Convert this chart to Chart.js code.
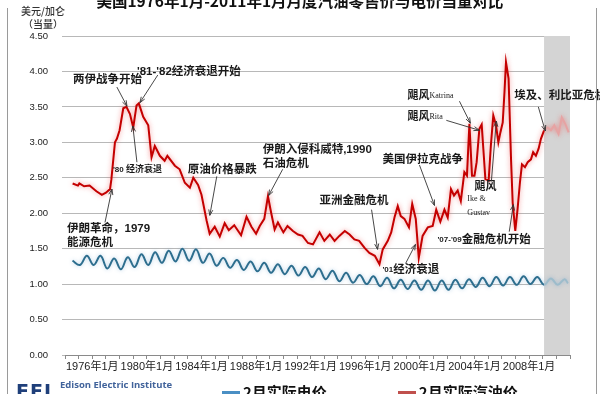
<!DOCTYPE html>
<html lang="zh-CN">
<head>
<meta charset="utf-8">
<script src="https://cdn.jsdelivr.net/npm/chart.js@4.4.1/dist/chart.umd.min.js"></script>
<style>
  html, body { margin: 0; padding: 0; width: 600px; height: 394px; overflow: hidden; background: #fff; }
  #wrap { position: relative; width: 600px; height: 394px; overflow: hidden; }
  #frame { position: absolute; left: 7px; top: 8px; width: 588px; height: 400px;
           border-left: 1px solid #9a9a9a; border-right: 1px solid #9a9a9a; }
  #title { position: absolute; left: 0; top: -11px; width: 600px; text-align: center; white-space: nowrap;
           font: bold 15.5px "Noto Sans CJK SC"; color: #111; }
  #unit { position: absolute; left: 19px; top: 4px; width: 48px; text-align: center;
          font: 500 10px/13px "Noto Sans CJK SC"; color: #333; }
  #logo { position: absolute; left: 16px; top: 380px; font: bold 19px "DejaVu Sans"; color: #1f3f7a; letter-spacing: 1px; }
  #eei { position: absolute; left: 60px; top: 378px; font: bold 9.5px "Open Sans"; color: #41639b; white-space: nowrap; }
  #legend { position: absolute; left: 222px; top: 383px; display: flex; gap: 71px;
            font: bold 15px/18px "Noto Sans CJK SC"; color: #111; white-space: nowrap; }
  #legend .item { display: flex; align-items: flex-start; }
  #legend .item i { display: block; width: 18px; height: 12px; margin: 8px 3px 0 0; }
  canvas { position: absolute; left: 0; top: 0; }
</style>
</head>
<body>
<div id="wrap">
  <canvas id="grafico" width="600" height="394"></canvas>
  <div id="frame"></div>
  <div id="title">美国1976年1月-2011年1月月度汽油零售价与电价当量对比</div>
  <div id="unit">美元/加仑<br>（当量）</div>
  <div id="logo">EEI</div>
  <div id="eei">Edison Electric Institute</div>
  <div id="legend"></div>
</div>
<script>
// DADOS - gasolina (vermelho), datas em anos decimais
const gasDates = [
  1976.56, 1976.95, 1977.05, 1977.4, 1977.8, 1978.3, 1978.7, 1979.0, 1979.3, 1979.4,
  1979.66, 1979.8, 1980.0, 1980.27, 1980.5, 1980.76, 1981.0, 1981.24, 1981.41, 1981.73,
  1982.1, 1982.34, 1982.58, 1982.95, 1983.3, 1983.5, 1984.05, 1984.4, 1984.78, 1985.15,
  1985.4, 1985.75, 1986.0, 1986.37, 1986.6, 1986.97, 1987.34, 1987.7, 1988.0, 1988.4,
  1988.9, 1989.3, 1989.66, 1990.0, 1990.27, 1990.6, 1990.87, 1991.1, 1991.36, 1991.6,
  1992.0, 1992.3, 1992.7, 1993.07, 1993.4, 1993.8, 1994.17, 1994.65, 1995.0, 1995.4,
  1995.75, 1996.1, 1996.5, 1996.85, 1997.2, 1997.55, 1997.95, 1998.3, 1998.7, 1999.04,
  1999.28, 1999.65, 1999.9, 2000.14, 2000.38, 2000.6, 2000.87, 2001.2, 2001.44, 2001.7,
  2001.92, 2002.2, 2002.58, 2002.94, 2003.2, 2003.5, 2003.8, 2004.04, 2004.28, 2004.5,
  2004.77, 2005.0, 2005.26, 2005.45, 2005.63, 2005.82, 2006.0, 2006.16, 2006.36, 2006.53,
  2006.65, 2006.8, 2007.04, 2007.2, 2007.38, 2007.58, 2007.75, 2007.9, 2008.07, 2008.2,
  2008.31, 2008.5, 2008.68, 2008.8, 2008.99, 2009.16, 2009.33, 2009.48, 2009.7, 2009.9,
  2010.14, 2010.3, 2010.5, 2010.7, 2010.87, 2011.1, 2011.35, 2011.6, 2011.85, 2012.16,
  2012.4, 2012.65, 2012.9
];
const gasPrices = [
  2.42, 2.39, 2.42, 2.38, 2.39, 2.31, 2.26, 2.29, 2.34, 2.48,
  3.00, 3.05, 3.17, 3.48, 3.50, 3.40, 3.21, 3.52, 3.55, 3.36,
  3.24, 2.79, 2.95, 2.81, 2.74, 2.81, 2.67, 2.62, 2.43, 2.36,
  2.50, 2.40, 2.26, 1.90, 1.71, 1.81, 1.67, 1.86, 1.76, 1.83,
  1.69, 1.95, 1.81, 1.71, 1.82, 1.92, 2.24, 2.01, 1.77, 1.87,
  1.73, 1.82, 1.75, 1.70, 1.68, 1.58, 1.56, 1.73, 1.61, 1.70,
  1.61, 1.68, 1.75, 1.70, 1.63, 1.61, 1.51, 1.44, 1.40, 1.28,
  1.49, 1.61, 1.73, 1.94, 2.10, 1.96, 1.92, 1.80, 2.13, 1.92,
  1.37, 1.68, 1.80, 1.82, 2.05, 1.88, 2.05, 1.94, 2.34, 2.25,
  2.32, 2.17, 2.58, 2.53, 3.26, 2.53, 2.53, 2.72, 3.19, 3.25,
  2.91, 2.48, 2.46, 2.95, 3.38, 3.24, 3.00, 3.14, 3.28, 3.71,
  4.13, 3.90, 2.76, 2.15, 1.75, 2.06, 2.43, 2.69, 2.65, 2.72,
  2.76, 2.86, 2.81, 2.91, 3.05, 3.17, 3.21, 3.17, 3.24, 3.12,
  3.35, 3.26, 3.14
];

// DADOS - eletricidade (azul)
const elecDates = [
  1976.55, 1977.1, 1977.6, 1978.1, 1978.6, 1979.1, 1979.6, 1980.1, 1980.6, 1981.1, 1981.6,
  1982.1, 1982.6, 1983.1, 1983.6, 1984.1, 1984.6, 1985.1, 1985.6, 1986.1, 1986.6,
  1987.1, 1987.6, 1988.1, 1988.6, 1989.1, 1989.6, 1990.1, 1990.6, 1991.1, 1991.6,
  1992.1, 1992.6, 1993.1, 1993.6, 1994.1, 1994.6, 1995.1, 1995.6, 1996.1, 1996.6,
  1997.1, 1997.6, 1998.1, 1998.6, 1999.1, 1999.6, 2000.1, 2000.6, 2001.1, 2001.6,
  2002.1, 2002.6, 2003.1, 2003.6, 2004.1, 2004.6, 2005.1, 2005.6, 2006.1, 2006.6,
  2007.1, 2007.6, 2008.1, 2008.6, 2009.1, 2009.6, 2010.1, 2010.6, 2011.1, 2011.6,
  2012.1, 2012.6, 2012.85
];
const elecPrices = [
  1.33, 1.27, 1.40, 1.27, 1.40, 1.22, 1.36, 1.21, 1.38, 1.24, 1.42,
  1.27, 1.45, 1.30, 1.47, 1.32, 1.50, 1.33, 1.49, 1.30, 1.43,
  1.26, 1.37, 1.23, 1.34, 1.20, 1.32, 1.18, 1.30, 1.16, 1.28,
  1.14, 1.26, 1.12, 1.24, 1.10, 1.22, 1.07, 1.19, 1.04, 1.16,
  1.02, 1.13, 1.00, 1.11, 0.97, 1.09, 0.94, 1.06, 0.93, 1.05,
  0.92, 1.05, 0.91, 1.05, 0.92, 1.06, 0.94, 1.07, 0.96, 1.09,
  0.97, 1.10, 0.98, 1.10, 0.99, 1.11, 1.00, 1.10, 0.99, 1.08,
  0.99, 1.07, 1.01
];

// previsao (faixa cinza)
const forecastStart = 2011.1;
const xMin = 1976;
const xMax = 2013;

// notas de texto: posicao em [ano, valor], seta [ano1, valor1, ano2, valor2]
const notes = [
  { at: [1976.59, 3.88], lines: [[["两伊战争开始", 11.5]]], arrow: [1979.8, 3.78, 1980.54, 3.51] },
  { at: [1981.27, 4.0], lines: [[["'81-'82经济衰退开始", 11.5]]], arrow: [1982.8, 3.95, 1981.49, 3.56] },
  { at: [1979.51, 2.61], lines: [[["'80 ", 8], ["经济衰退", 9]]], arrow: [1981.27, 2.72, 1980.97, 3.23] },
  { at: [1985.0, 2.61], lines: [[["原油价格暴跌", 11.5]]], arrow: [1987.12, 2.52, 1986.61, 1.97] },
  { at: [1976.15, 1.78], lines: [[["伊朗革命，1979", 11.5]], [["能源危机", 11.5]]], arrow: [1978.93, 1.87, 1979.44, 2.34] },
  { at: [1990.48, 2.9], lines: [[["伊朗入侵科威特,1990", 11.5]], [["石油危机", 11.5]]], arrow: [1991.95, 2.62, 1990.92, 2.25] },
  { at: [1994.65, 2.17], lines: [[["亚洲金融危机", 11.5]]], arrow: [1998.46, 2.05, 1998.9, 1.49] },
  { at: [1999.26, 1.2], lines: [[["'01", 8], ["经济衰退", 11.5]]], arrow: [2000.95, 1.29, 2001.68, 1.56] },
  { at: [1999.26, 2.76], lines: [[["美国伊拉克战争", 11.5]]], arrow: [2001.97, 2.68, 2003.07, 2.11] },
  { at: [2003.29, 1.63], lines: [[["'07-'09", 8], ["金融危机开始", 11.5]]], arrow: [2008.55, 1.74, 2008.85, 2.12] },
  { at: [2001.09, 3.65], lines: [[["飓风", 11], ["Katrina", 8, "serif"]]], arrow: [2004.9, 3.58, 2005.7, 3.27] },
  { at: [2001.09, 3.36], lines: [[["飓风", 11], ["Rita", 8, "serif"]]], arrow: [2003.94, 3.31, 2006.36, 3.17] },
  { at: [2006.0, 2.37], lines: [[["飓风", 11]]], arrow: [2007.24, 2.45, 2007.6, 3.3] },
  { at: [2005.48, 2.2], lines: [[["Ike &", 8, "serif"]], [["Gustav", 8, "serif"]]] },
  { at: [2008.92, 3.65], lines: [[["埃及、利比亚危机", 11.5]]], arrow: [2010.68, 3.5, 2011.19, 3.16] }
];

// FAIXA CINZA DA PREVISAO
const faixaPlugin = {
  id: "faixa",
  beforeDatasetsDraw(chart) {
    const { ctx, chartArea, scales } = chart;
    const left = scales.x.getPixelForValue(forecastStart);
    ctx.save();
    ctx.fillStyle = "#d4d4d4";
    ctx.fillRect(left, chartArea.top, chartArea.right - left, chartArea.bottom - chartArea.top);
    ctx.restore();
  }
};

// BRILHO NAS LINHAS
const brilhoPlugin = {
  id: "brilho",
  beforeDatasetDraw(chart, args) {
    const ctx = chart.ctx;
    ctx.save();
    ctx.shadowColor = args.index === 1 ? "rgba(240,90,90,0.65)" : "rgba(90,150,200,0.45)";
    ctx.shadowBlur = args.index === 1 ? 5 : 4;
  },
  afterDatasetDraw(chart) {
    chart.ctx.restore();
  }
};

// NOTAS E SETAS
const notasPlugin = {
  id: "notas",
  afterDatasetsDraw(chart) {
    const { ctx, scales } = chart;
    const sx = scales.x, sy = scales.y;
    ctx.save();
    ctx.fillStyle = "#1a1a1a";
    ctx.strokeStyle = "#333";
    ctx.lineWidth = 0.9;
    ctx.textBaseline = "middle";
    for (let i = 0; i < notes.length; i++) {
      const n = notes[i];
      const px = sx.getPixelForValue(n.at[0]);
      const py = sy.getPixelForValue(n.at[1]);
      for (let l = 0; l < n.lines.length; l++) {
        let cx = px;
        for (const seg of n.lines[l]) {
          ctx.font = seg[2] === "serif"
            ? seg[1] + 'px "Liberation Serif"'
            : "bold " + seg[1] + 'px "Liberation Sans", "Noto Sans CJK SC"';
          ctx.fillText(seg[0], cx, py + l * 14);
          cx += ctx.measureText(seg[0]).width;
        }
      }
      if (n.arrow) {
        const a = n.arrow;
        const x1 = sx.getPixelForValue(a[0]), y1 = sy.getPixelForValue(a[1]);
        const x2 = sx.getPixelForValue(a[2]), y2 = sy.getPixelForValue(a[3]);
        const ang = Math.atan2(y2 - y1, x2 - x1);
        ctx.beginPath();
        ctx.moveTo(x1, y1);
        ctx.lineTo(x2, y2);
        ctx.moveTo(x2 - 6 * Math.cos(ang - 0.35), y2 - 6 * Math.sin(ang - 0.35));
        ctx.lineTo(x2, y2);
        ctx.lineTo(x2 - 6 * Math.cos(ang + 0.35), y2 - 6 * Math.sin(ang + 0.35));
        ctx.stroke();
      }
    }
    ctx.restore();
  }
};

function pontos(datas, valores) {
  let out = [];
  for (let i = 0; i < datas.length; i++) out.push({ x: datas[i], y: valores[i] });
  return out;
}

function corPrevisao(normal, clara) {
  return function (c) {
    return c.p0.parsed.x >= forecastStart - 0.001 ? clara : normal;
  };
}

const chart = new Chart(document.getElementById("grafico"), {
  type: "line",
  data: {
    datasets: [
      {
        label: "2月实际电价",
        data: pontos(elecDates, elecPrices),
        borderColor: "#2d6e8e",
        backgroundColor: "#4a8fc4",
        borderWidth: 2,
        tension: 0.4,
        segment: { borderColor: corPrevisao("#2d6e8e", "#9dbccb") }
      },
      {
        label: "2月实际汽油价",
        data: pontos(gasDates, gasPrices),
        borderColor: "#c40000",
        backgroundColor: "#c0504d",
        borderWidth: 2,
        tension: 0,
        segment: { borderColor: corPrevisao("#c40000", "#e6a3a3") }
      }
    ]
  },
  options: {
    responsive: false,
    animation: false,
    layout: { padding: { left: 7, right: 30, top: 36, bottom: 19 } },
    elements: { point: { radius: 0 } },
    plugins: { legend: { display: false }, tooltip: { enabled: false } },
    scales: {
      x: {
        type: "linear",
        min: xMin,
        max: xMax,
        afterFit: function (s) { s.height = 20; },
        border: { color: "#8a8a8a", width: 1 },
        grid: { drawOnChartArea: false, tickLength: 4, color: "#8a8a8a" },
        ticks: {
          stepSize: 1,
          autoSkip: false,
          maxRotation: 0,
          maxTicksLimit: 100,
          padding: 1,
          color: "#222",
          font: { family: '"Liberation Sans", "Noto Sans CJK SC"', size: 11 },
          callback: function (v) {
            const ano = Math.round(v);
            if ((ano - 1978) % 4 === 0 && ano <= 2010) return (ano - 2) + "年1月";
            return "";
          }
        }
      },
      y: {
        min: 0,
        max: 4.5,
        afterFit: function (s) { s.width = 58; },
        border: { display: false },
        grid: { color: "#b8b8b8", tickLength: 3 },
        ticks: {
          stepSize: 0.5,
          padding: 14,
          color: "#222",
          font: { family: '"Liberation Sans"', size: 9.5 },
          callback: function (v) { return v.toFixed(2); }
        }
      }
    }
  },
  plugins: [faixaPlugin, brilhoPlugin, notasPlugin]
});

// LEGENDA
const legenda = document.getElementById("legend");
chart.data.datasets.forEach(function (ds) {
  const item = document.createElement("span");
  item.className = "item";
  item.innerHTML = '<i style="background:' + ds.backgroundColor + '"></i>' + ds.label;
  legenda.appendChild(item);
});
</script>
</body>
</html>
